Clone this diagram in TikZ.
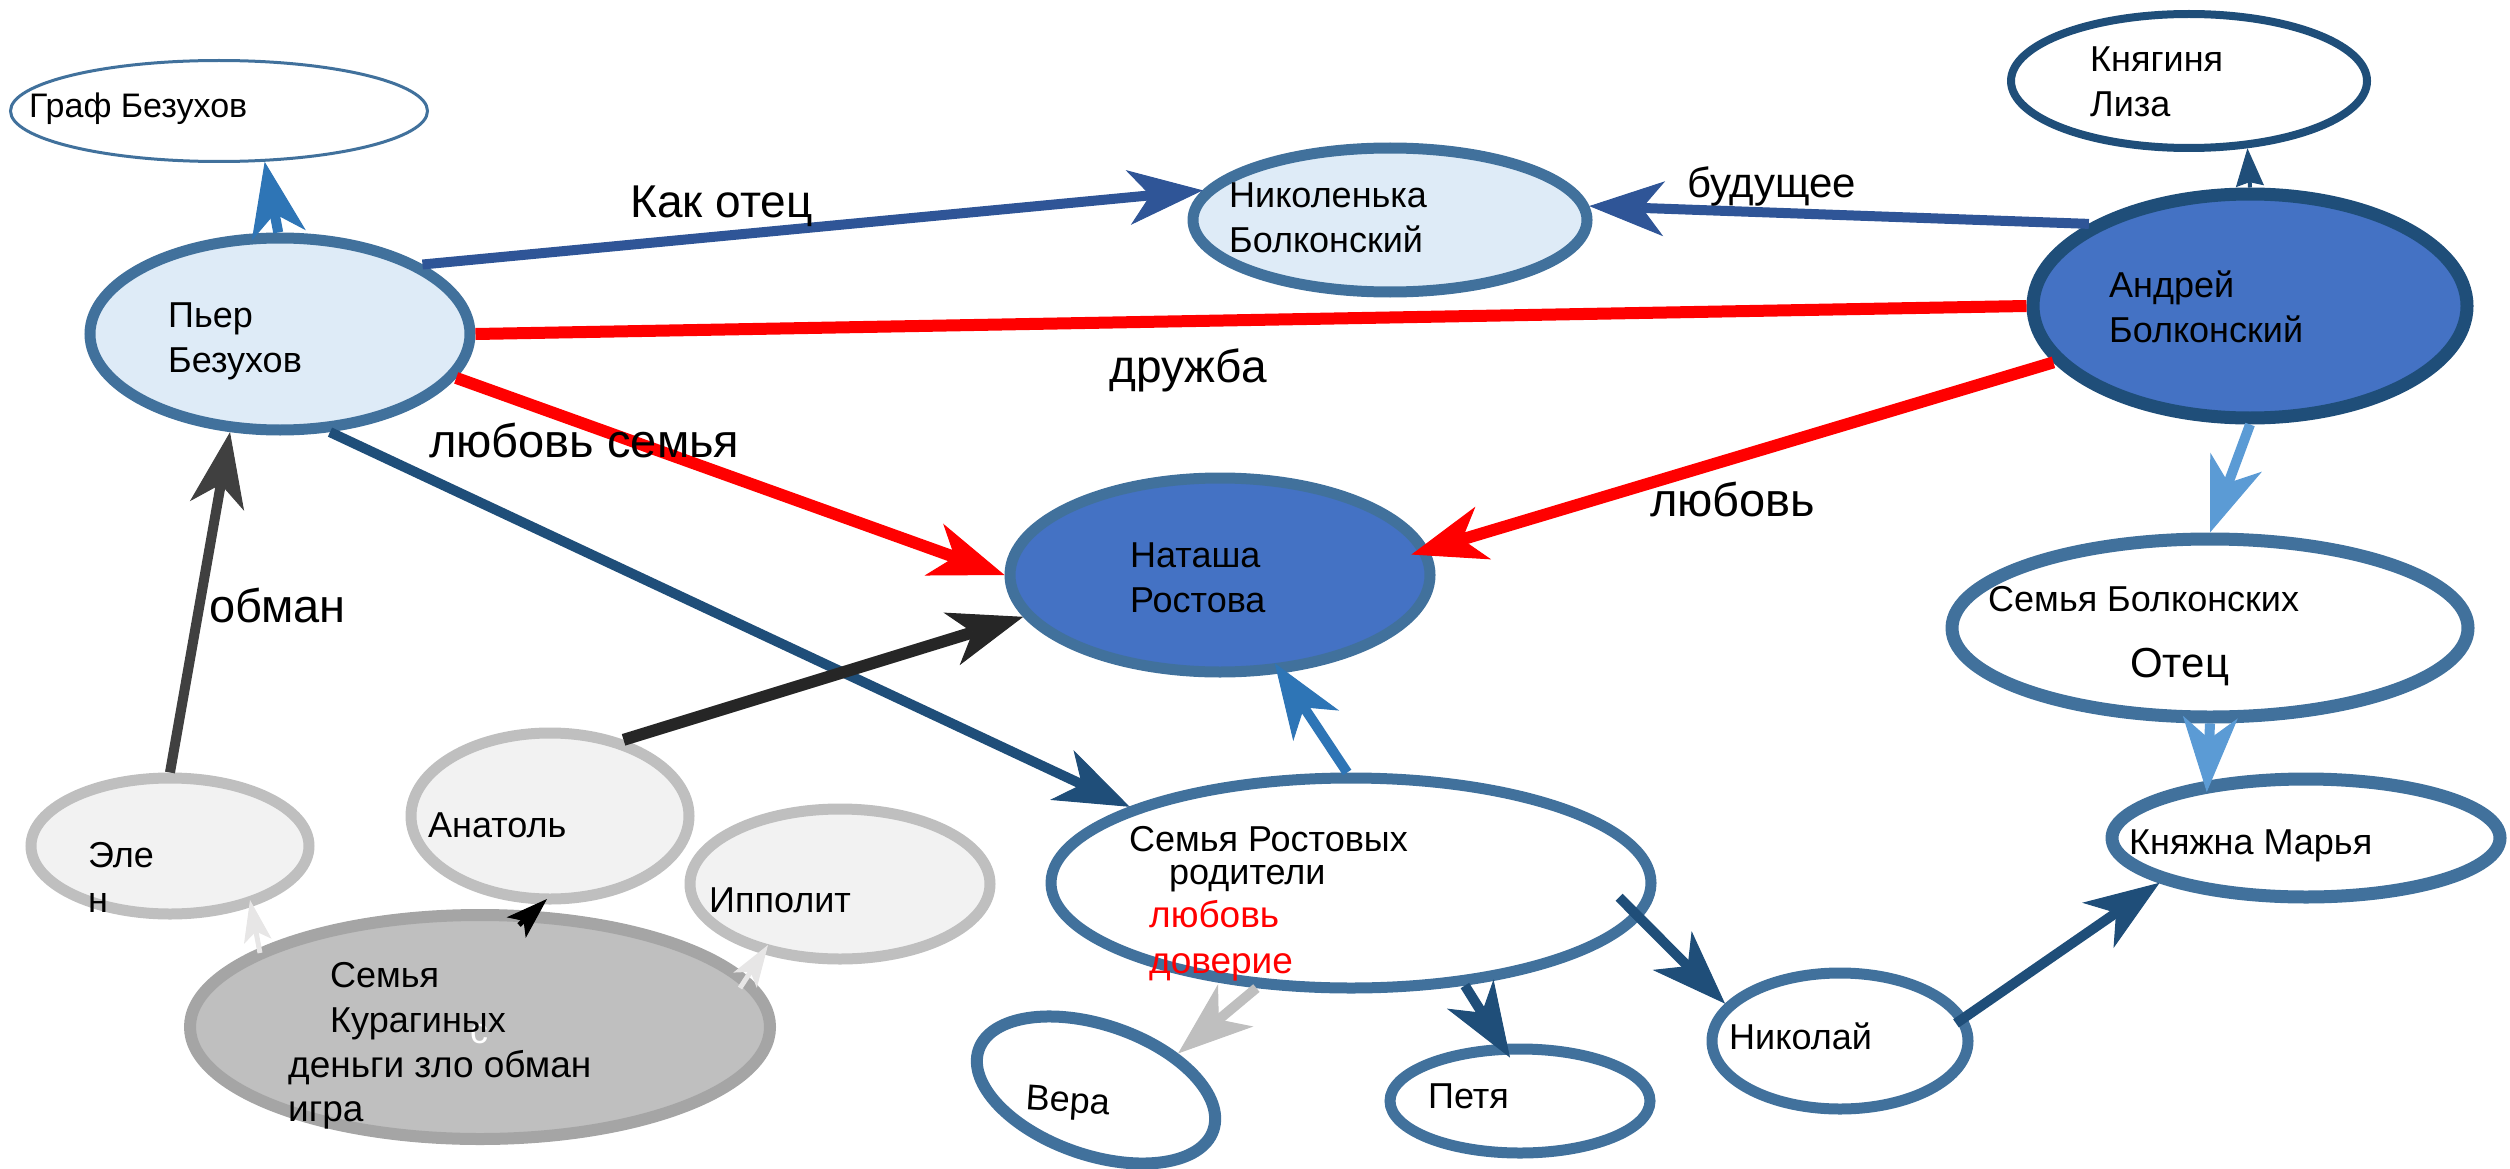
\documentclass[tikz,border=0pt]{standalone}
\usepackage{fontspec}
\setmainfont{Liberation Sans}
\usetikzlibrary{shapes.geometric,arrows.meta,calc}

\definecolor{nodeedge}{HTML}{41719C}
\definecolor{darkedge}{HTML}{1F4E79}
\definecolor{paleblue}{HTML}{DEEBF7}
\definecolor{natblue}{HTML}{4472C4}
\definecolor{linknavy}{HTML}{2F5597}
\definecolor{linkmid}{HTML}{2E75B6}
\definecolor{linklight}{HTML}{5B9BD5}
\definecolor{greyfill}{HTML}{F2F2F2}
\definecolor{greyedge}{HTML}{BFBFBF}
\definecolor{kuredge}{HTML}{A5A5A5}
\definecolor{faintgrey}{HTML}{E7E6E6}
\definecolor{darkgrey}{HTML}{404040}
\definecolor{nearblack}{HTML}{262626}

\tikzset{
  pers/.style={ellipse, draw=nodeedge, line width=11pt, fill=white, inner sep=0pt},
  kur/.style={pers, draw=greyedge, fill=greyfill},
  link/.style={line width=10pt, -{Stealth[length=75pt, width=55pt, inset=22pt, line width=1pt]}},
  minilink/.style={line width=5pt, -{Stealth[length=42pt, width=28pt, inset=10pt, line width=1pt]}},
  txt/.style={anchor=base west, inner sep=0pt, align=left, font=\fontsize{36}{45}\selectfont},
  lbl/.style={txt, font=\fontsize{47}{56}\selectfont}
}

\begin{document}
\begin{tikzpicture}[x=1pt, y=-1pt]
\useasboundingbox (0,0) rectangle (2510,1169);

% people
\node[pers, line width=3pt, minimum width=417pt, minimum height=101pt] (graf) at (219,111) {};
\node[pers, fill=paleblue, minimum width=380pt, minimum height=192pt] (pierre) at (280,334) {};
\node[pers, fill=paleblue, minimum width=394pt, minimum height=144pt] (nikolenka) at (1390,220) {};
\node[pers, draw=darkedge, line width=8pt, minimum width=356pt, minimum height=134pt] (liza) at (2189,81) {};
\node[pers, draw=darkedge, line width=13pt, fill=natblue, minimum width=434pt, minimum height=224pt] (andrey) at (2250,306) {};
\node[pers, fill=natblue, minimum width=420pt, minimum height=194pt] (natasha) at (1220,575) {};
\node[pers, line width=13pt, minimum width=516pt, minimum height=178pt] (bolkfam) at (2210,628) {};
\node[pers, line width=13pt, minimum width=388pt, minimum height=118pt] (marya) at (2306,838) {};
\node[pers, minimum width=600pt, minimum height=210pt] (rostfam) at (1351,883) {};
\node[pers, minimum width=256pt, minimum height=136pt] (nikolay) at (1840,1041) {};
\node[pers, minimum width=260pt, minimum height=104pt] (petya) at (1520,1101) {};
\node[pers, line width=12pt, rotate=-19, minimum width=248pt, minimum height=130pt] (vera) at (1096,1090) {};
\node[kur, minimum width=278pt, minimum height=136pt] (elen) at (170,846) {};
\node[kur, minimum width=278pt, minimum height=166pt] (anatol) at (550,816) {};
\node[kur, minimum width=300pt, minimum height=150pt] (ippolit) at (840,884) {};
\node[pers, draw=kuredge, fill=greyedge, line width=12pt, minimum width=580pt, minimum height=224pt] (kuragin) at (480,1027) {};

% links
\draw[link, linkmid] (pierre.91) -- (graf.-48);
\draw[link, linknavy] (pierre.26) -- (nikolenka.171);
\draw[link, linknavy] (andrey.153) -- (nikolenka.4);
\draw[red, line width=12pt] (pierre.0) -- (andrey.180);
\draw[link, red, line width=12pt] (pierre.-14) -- (natasha.180);
\draw[link, red, line width=12pt, shorten >=-18pt] (andrey.196) -- (natasha.7);
\draw[link, linklight] (andrey.-90) -- (bolkfam.90);
\draw[link, linklight, shorten >=-11pt] (bolkfam.-90) -- (marya.150);
\draw[line width=4pt, darkedge, -{Stealth[length=38pt, width=28pt, inset=4pt, line width=1pt]}] (andrey.90) -- (liza.-49);
\draw[link, darkedge] (pierre.-63) -- (rostfam.161);
\draw[link, nearblack, line width=12pt] (anatol.46) -- (natasha.192);
\draw[link, darkgrey] (elen.90) -- (pierre.243);
\draw[link, linkmid, shorten >=-12pt] (rostfam.92) -- (natasha.-58);
\draw[link, greyedge] (rostfam.228) -- (vera.43);
\draw[link, darkedge, shorten >=-16pt] (rostfam.-42) -- (petya.108);
\draw[link, darkedge, shorten <=-30pt] (rostfam.-7) -- (nikolay.162);
\draw[link, darkedge, shorten <=-12pt] (nikolay.11) -- (marya.197);
\draw[minilink, faintgrey] ($(kuragin.center)+(-220,-74)$) -- ($(elen.center)+(80,54)$);
\draw[minilink, black] ($(kuragin.center)+(39,-102)$) -- ($(anatol.center)+(-3,83)$);
\draw[minilink, faintgrey] ($(kuragin.center)+(260,-39)$) -- ($(ippolit.center)+(-72,61)$);

% names
\node[txt, font=\fontsize{34}{40}\selectfont] (tgraf) at (29,118) {Граф Безухов};
\node[txt] (tpierre) at (168,372) {Пьер\\Безухов};
\node[txt] (tnikolenka) at (1229,252) {Николенька\\Болконский};
\node[txt] (tliza) at (2090,117) {Княгиня\\Лиза};
\node[txt] (tandrey) at (2109,342) {Андрей\\Болконский};
\node[txt] (tnatasha) at (1130,612) {Наташа\\Ростова};
\node[txt] (tbolkfam) at (1988,611) {Семья Болконских};
\node[txt, font=\fontsize{42}{48}\selectfont] (tfather) at (2130,677) {Отец};
\node[txt] (tmarya) at (2129,854) {Княжна Марья};
\node[txt] (trostfam) at (1129,851) {Семья Ростовых};
\node[txt] (tparents) at (1169,884) {родители};
\node[txt, text=red, font=\fontsize{37}{46}\selectfont] (trostval) at (1149,973) {любовь\\доверие};
\node[txt] (tnikolay) at (1729,1049) {Николай};
\node[txt] (tpetya) at (1428,1108) {Петя};
\node[txt, rotate=-4] (tvera) at (1025,1109) {Вера};
\node[txt] (telen) at (88,912) {Эле\\н};
\node[txt] (tanatol) at (428,837) {Анатоль};
\node[txt] (tippolit) at (709,912) {Ипполит};
\node[txt, text=white] (tmark) at (470,1043) {с};
\node[txt] (tkuragin) at (330,1032) {Семья\\Курагиных};
\node[txt, font=\fontsize{37}{44}\selectfont] (tkurval) at (288,1121) {деньги зло обман\\игра};

% link labels
\node[lbl, font=\fontsize{46}{56}\selectfont] (lfather) at (630,218) {Как отец};
\node[lbl, font=\fontsize{42}{48}\selectfont] (lfuture) at (1687,197) {будущее};
\node[lbl, font=\fontsize{46}{56}\selectfont] (lfriend) at (1109,382) {дружба};
\node[lbl] (lfamlove) at (429,457) {любовь семья};
\node[lbl] (llove) at (1650,516) {любовь};
\node[lbl] (ldeceit) at (209,622) {обман};
\end{tikzpicture}
\end{document}
